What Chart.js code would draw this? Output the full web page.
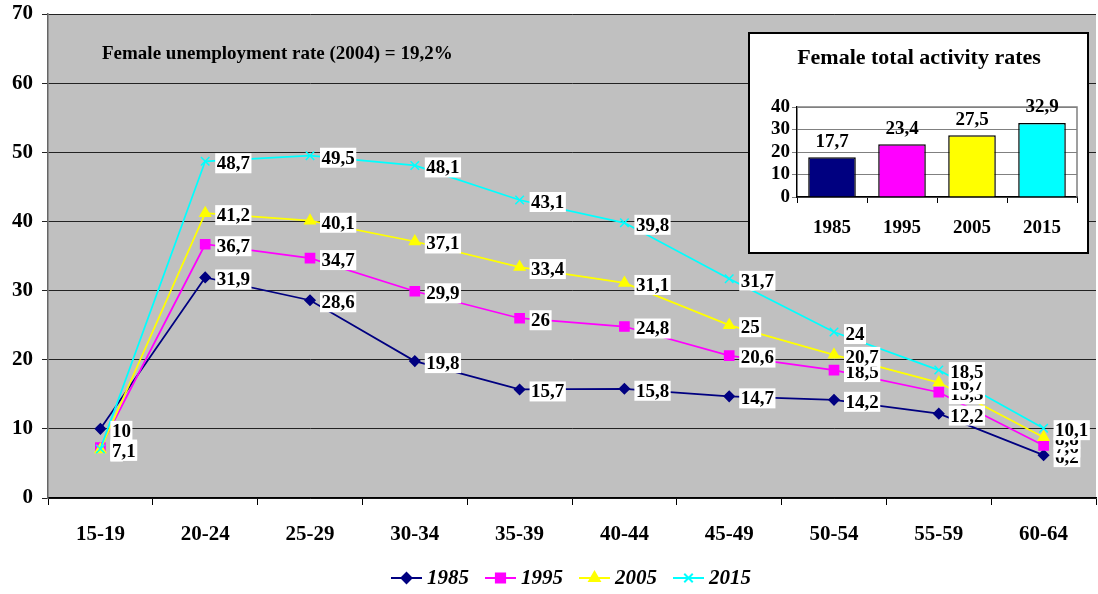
<!DOCTYPE html>
<html>
<head>
<meta charset="utf-8">
<script src="https://cdn.jsdelivr.net/npm/chart.js@4.4.1/dist/chart.umd.min.js"></script>
<style>
  html, body { margin: 0; padding: 0; background: #fff; overflow: hidden; }
  #wrap { position: relative; width: 1104px; height: 594px; }
  #main { position: absolute; left: 0; top: 0; }
  #insetBox { position: absolute; left: 748px; top: 32px; width: 341px; height: 222px;
              box-sizing: border-box; border: 2px solid #000; background: #fff; }
</style>
</head>
<body>
<div id="wrap">
  <canvas id="main" width="1104" height="594" style="width:1104px;height:594px"></canvas>
  <div id="insetBox"><canvas id="inset" width="337" height="218" style="width:337px;height:218px"></canvas></div>
</div>
<script>
// Age groups on the horizontal axis
const ageGroups = ['15-19', '20-24', '25-29', '30-34', '35-39', '40-44', '45-49', '50-54', '55-59', '60-64'];

// Female activity rates by age group (%)
const rates1985 = [10, 31.9, 28.6, 19.8, 15.7, 15.8, 14.7, 14.2, 12.2, 6.2];
const rates1995 = [7.3, 36.7, 34.7, 29.9, 26, 24.8, 20.6, 18.5, 15.3, 7.6];
const rates2005 = [7.0, 41.2, 40.1, 37.1, 33.4, 31.1, 25, 20.7, 16.7, 8.8];
const rates2015 = [7.1, 48.7, 49.5, 48.1, 43.1, 39.8, 31.7, 24, 18.5, 10.1];

// Female total activity rates (inset bar chart)
const years = ['1985', '1995', '2005', '2015'];
const totalRates = [17.7, 23.4, 27.5, 32.9];

const noteText = 'Female unemployment rate (2004) = 19,2%';
const insetTitle = 'Female total activity rates';

const SERIF = '"Liberation Serif", "Times New Roman", serif';
const fmt = v => String(v).replace('.', ',');

const seriesStyle = [
  { label: '1985', data: rates1985, color: '#000080', pointStyle: 'rectRot', radius: 5 },
  { label: '1995', data: rates1995, color: '#FF00FF', pointStyle: 'rect', radius: 6.5 },
  { label: '2005', data: rates2005, color: '#FFFF00', pointStyle: 'triangle', radius: 6 },
  { label: '2015', data: rates2015, color: '#00FFFF', pointStyle: 'crossRot', radius: 6 }
];

// Grey plot area background
const plotBackground = {
  id: 'plotBackground',
  beforeDraw(chart) {
    const { ctx, chartArea: a } = chart;
    ctx.save();
    ctx.fillStyle = '#C0C0C0';
    ctx.fillRect(a.left, a.top, a.right - a.left, a.bottom - a.top);
    ctx.restore();
  }
};

// Value boxes to the right of each point, later series on top
const valueBoxes = {
  id: 'valueBoxes',
  afterDatasetsDraw(chart) {
    const ctx = chart.ctx;
    ctx.save();
    ctx.font = 'bold 19px ' + SERIF;
    ctx.textBaseline = 'middle';
    ctx.textAlign = 'left';
    chart.data.datasets.forEach((ds, di) => {
      const meta = chart.getDatasetMeta(di);
      meta.data.forEach((pt, i) => {
        const txt = fmt(ds.data[i]);
        const w = ctx.measureText(txt).width;
        const x0 = pt.x + 10;
        const yc = pt.y + 2;
        ctx.fillStyle = '#fff';
        ctx.fillRect(x0, yc - 10, w + 3, 20);
        ctx.fillStyle = '#000';
        ctx.fillText(txt, x0 + 1.5, yc + 1);
      });
    });
    ctx.restore();
  }
};

// Note text and line/marker legend
const extras = {
  id: 'extras',
  afterDraw(chart) {
    const ctx = chart.ctx;
    ctx.save();
    ctx.fillStyle = '#000';
    ctx.font = 'bold 19px ' + SERIF;
    ctx.textBaseline = 'middle';
    ctx.textAlign = 'left';
    ctx.fillText(noteText, 102, 54);

    ctx.font = 'italic bold 21px ' + SERIF;
    const lineLen = 31, gapText = 5, gapItem = 16;
    const widths = seriesStyle.map(s => lineLen + gapText + ctx.measureText(s.label).width);
    const total = widths.reduce((a, b) => a + b, 0) + gapItem * (widths.length - 1);
    let x = 571 - total / 2;
    const y = 578;
    seriesStyle.forEach((s, i) => {
      ctx.strokeStyle = s.color;
      ctx.lineWidth = 2;
      ctx.beginPath();
      ctx.moveTo(x, y);
      ctx.lineTo(x + lineLen, y);
      ctx.stroke();
      ctx.fillStyle = s.color;
      Chart.helpers.drawPoint(ctx, { pointStyle: s.pointStyle, radius: s.radius, rotation: 0, borderWidth: 2 }, x + lineLen / 2, y);
      ctx.fillStyle = '#000';
      ctx.fillText(s.label, x + lineLen + gapText, y + 1);
      x += widths[i] + gapItem;
    });
    ctx.restore();
  }
};

new Chart(document.getElementById('main'), {
  type: 'line',
  data: {
    labels: ageGroups,
    datasets: seriesStyle.map((s, i) => ({
      label: s.label,
      data: s.data,
      borderColor: s.color,
      backgroundColor: s.color,
      pointBackgroundColor: s.color,
      pointBorderColor: s.color,
      pointStyle: s.pointStyle,
      pointRadius: s.radius,
      pointBorderWidth: 1.5,
      borderWidth: 1.75,
      tension: 0,
      order: 3 - i
    }))
  },
  options: {
    responsive: false,
    animation: false,
    devicePixelRatio: 1,
    layout: { padding: { top: 14, right: 1, bottom: 0, left: 0 } },
    plugins: { legend: { display: false }, tooltip: { enabled: false } },
    scales: {
      x: {
        offset: true,
        afterFit(s) { s.height = 96; },
        grid: { offset: true, drawOnChartArea: false, drawTicks: true, tickLength: 7, color: '#000' },
        border: { color: '#000', width: 1.5 },
        ticks: { color: '#000', font: { family: SERIF, size: 21, weight: 'bold' }, padding: 17, maxRotation: 0 }
      },
      y: {
        min: 0, max: 70,
        afterFit(s) { s.width = 48; s.paddingTop = 0; s.paddingBottom = 0; },
        grid: { color: '#222', lineWidth: 1, tickLength: 6 },
        border: { color: '#666', width: 1.5 },
        ticks: { stepSize: 10, color: '#000', font: { family: SERIF, size: 21, weight: 'bold' }, padding: 9 }
      }
    }
  },
  plugins: [plotBackground, valueBoxes, extras]
});

// Inset: total activity rates
const insetDecor = {
  id: 'insetDecor',
  afterDraw(chart) {
    const { ctx, chartArea: a } = chart;
    ctx.save();
    ctx.strokeStyle = '#808080';
    ctx.lineWidth = 1.5;
    ctx.beginPath();
    ctx.moveTo(a.left, a.top);
    ctx.lineTo(a.right, a.top);
    ctx.lineTo(a.right, a.bottom);
    ctx.stroke();
    ctx.fillStyle = '#000';
    ctx.font = 'bold 22px ' + SERIF;
    ctx.textAlign = 'center';
    ctx.textBaseline = 'middle';
    ctx.fillText(insetTitle, 169, 24);
    ctx.font = 'bold 19px ' + SERIF;
    const meta = chart.getDatasetMeta(0);
    ctx.textBaseline = 'bottom';
    meta.data.forEach((bar, i) => {
      ctx.fillText(fmt(chart.data.datasets[0].data[i]), bar.x, bar.y - 6);
    });
    ctx.restore();
  }
};

new Chart(document.getElementById('inset'), {
  type: 'bar',
  data: {
    labels: years,
    datasets: [{
      data: totalRates,
      backgroundColor: ['#000080', '#FF00FF', '#FFFF00', '#00FFFF'],
      borderColor: '#000',
      borderWidth: 1.5,
      categoryPercentage: 0.68,
      barPercentage: 1
    }]
  },
  options: {
    responsive: false,
    animation: false,
    devicePixelRatio: 1,
    layout: { padding: { top: 73, right: 10, bottom: 0, left: 0 } },
    plugins: { legend: { display: false }, tooltip: { enabled: false } },
    scales: {
      x: {
        afterFit(s) { s.height = 55; },
        grid: { offset: true, drawOnChartArea: false, tickLength: 6, color: '#000' },
        border: { color: '#000', width: 1.5 },
        ticks: { color: '#000', font: { family: SERIF, size: 19, weight: 'bold' }, padding: 14 }
      },
      y: {
        min: 0, max: 40,
        afterFit(s) { s.width = 47; },
        grid: { color: '#808080', lineWidth: 1, tickLength: 5 },
        border: { color: '#000', width: 1.5 },
        ticks: { stepSize: 10, autoSkip: false, color: '#000', font: { family: SERIF, size: 19, weight: 'bold' }, padding: 2 }
      }
    }
  },
  plugins: [insetDecor]
});
</script>
</body>
</html>
